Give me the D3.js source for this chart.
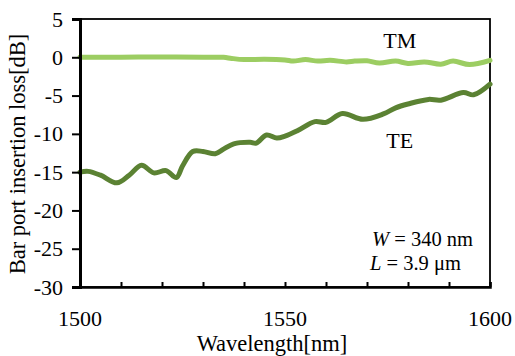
<!DOCTYPE html>
<html>
<head>
<meta charset="utf-8">
<script src="https://cdn.jsdelivr.net/npm/d3@7"></script>
<style>
  body { margin: 0; background: #fff; }
  svg { display: block; }
  svg text { font-family: 'Liberation Serif', 'Times New Roman', serif; fill: #000; }
</style>
</head>
<body>
<div id="app"></div>
<script>
// TE / TM bar port insertion loss vs wavelength
const teWavelength = [1500, 1502, 1505, 1509, 1512, 1515, 1518, 1521, 1523.5, 1525, 1527.5, 1530, 1533, 1535, 1537.5, 1541.5, 1543, 1545.5, 1548, 1550, 1553, 1557.3, 1560, 1564, 1569, 1574, 1577, 1580, 1585, 1588, 1593.5, 1596, 1600];
const teLoss = [-15.0, -14.9, -15.4, -16.4, -15.4, -14.1, -15.1, -14.8, -15.7, -14.2, -12.3, -12.3, -12.6, -12.0, -11.3, -11.1, -11.2, -10.15, -10.55, -10.3, -9.6, -8.4, -8.5, -7.35, -8.1, -7.4, -6.6, -6.1, -5.5, -5.6, -4.6, -4.9, -3.5];
const tmWavelength = [1500, 1510, 1520, 1530, 1535, 1537, 1540, 1545, 1550, 1552, 1555, 1558, 1561, 1565, 1567, 1570, 1573, 1577, 1580, 1584, 1588, 1591, 1595, 1600];
const tmLoss = [0.0, 0.0, 0.05, 0.0, 0.0, -0.15, -0.3, -0.25, -0.35, -0.5, -0.3, -0.5, -0.4, -0.6, -0.5, -0.45, -0.75, -0.5, -0.8, -0.6, -0.9, -0.5, -0.95, -0.4];
const xTicks = [1500, 1550, 1600];
const xMinorTicks = d3.range(1500, 1601, 10);
const yTicks = [5, 0, -5, -10, -15, -20, -25, -30];

(() => {
  const width = 515;
  const height = 356;
  const margin = { top: 19, right: 25, bottom: 69, left: 80 };

  const svg = d3.select('#app')
    .append('svg')
    .attr('width', width)
    .attr('height', height);

  const x = d3.scaleLinear()
    .domain([1500, 1600])
    .range([margin.left, width - margin.right]);
  const y = d3.scaleLinear()
    .domain([-30, 5])
    .range([height - margin.bottom, margin.top]);

  // frame: thin top/right border
  svg.append('rect')
    .attr('x', x(1500))
    .attr('y', y(5))
    .attr('width', x(1600) - x(1500))
    .attr('height', y(-30) - y(5))
    .style('fill', 'none')
    .style('stroke', '#000')
    .style('stroke-width', 1.8);

  const line = d3.line()
    .x(d => x(d[0]))
    .y(d => y(d[1]))
    .curve(d3.curveCatmullRom.alpha(0.5));

  // TM curve
  svg.append('path')
    .datum(d3.zip(tmWavelength, tmLoss))
    .attr('d', line)
    .style('fill', 'none')
    .style('stroke', '#9ccd62')
    .style('stroke-width', 5)
    .style('stroke-linecap', 'round');

  // TE curve
  svg.append('path')
    .datum(d3.zip(teWavelength, teLoss))
    .attr('d', line)
    .style('fill', 'none')
    .style('stroke', '#5b8233')
    .style('stroke-width', 5)
    .style('stroke-linecap', 'round');

  // y axis, ticks outside
  const yAxis = svg.append('g')
    .attr('transform', `translate(${margin.left},0)`)
    .call(d3.axisLeft(y).tickValues(yTicks).tickSize(8).tickPadding(9).tickFormat(d => String(d)));
  yAxis.attr('font-family', null);
  yAxis.select('.domain').style('stroke-width', 3);
  yAxis.selectAll('.tick line').style('stroke-width', 2);
  yAxis.selectAll('text')
    .style('font-size', '22px');

  // x axis, minor ticks pointing inward
  const xAxis = svg.append('g')
    .attr('transform', `translate(0,${height - margin.bottom})`)
    .call(d3.axisBottom(x).tickValues(xMinorTicks).tickSize(-5).tickFormat(''));
  xAxis.select('.domain').style('stroke-width', 2.5);
  xAxis.selectAll('.tick line').style('stroke-width', 2);

  svg.append('g')
    .selectAll('text')
    .data(xTicks)
    .enter()
    .append('text')
    .text(d => d)
    .attr('x', d => x(d))
    .attr('y', height - margin.bottom + 39)
    .style('font-size', '22px')
    .style('text-anchor', 'middle');

  // axis titles
  svg.append('text')
    .text('Wavelength[nm]')
    .attr('x', 272)
    .attr('y', 351)
    .style('font-size', '22.5px')
    .style('text-anchor', 'middle');

  svg.append('text')
    .text('Bar port insertion loss[dB]')
    .attr('transform', 'translate(25,154) rotate(-90)')
    .style('font-size', '22.5px')
    .style('text-anchor', 'middle');

  // curve labels
  svg.append('text')
    .text('TM')
    .attr('x', x(1578))
    .attr('y', 48)
    .style('font-size', '22px')
    .style('text-anchor', 'middle');

  svg.append('text')
    .text('TE')
    .attr('x', x(1578))
    .attr('y', 148)
    .style('font-size', '22px')
    .style('text-anchor', 'middle');

  // parameter notes
  const note1 = svg.append('text')
    .attr('x', 372)
    .attr('y', 246)
    .style('font-size', '20.5px');
  note1.append('tspan').text('W').style('font-style', 'italic');
  note1.append('tspan').text(' = 340 nm');

  const note2 = svg.append('text')
    .attr('x', 370)
    .attr('y', 270)
    .style('font-size', '20.5px');
  note2.append('tspan').text('L').style('font-style', 'italic');
  note2.append('tspan').text(' = 3.9 μm');
})();
</script>
</body>
</html>
